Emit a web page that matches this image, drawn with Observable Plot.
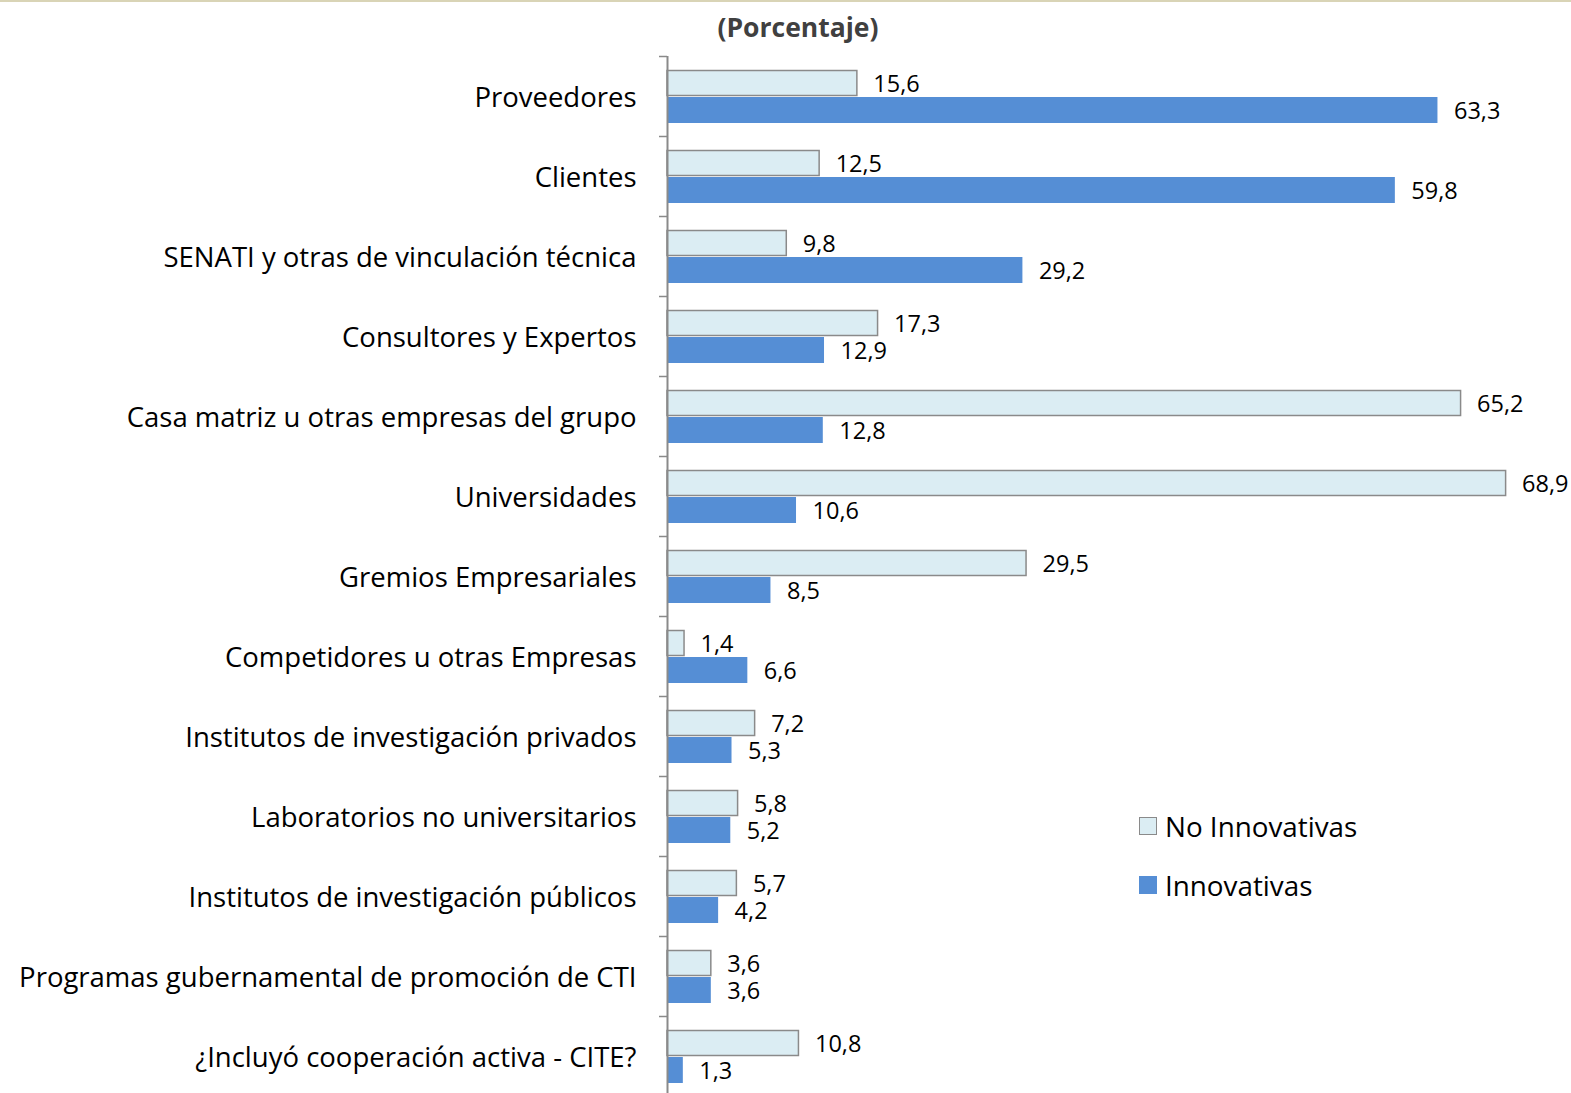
<!DOCTYPE html>
<html>
<head>
<meta charset="utf-8">
<script src="https://cdn.jsdelivr.net/npm/d3@7"></script>
<script src="https://cdn.jsdelivr.net/npm/@observablehq/plot@0.6"></script>
<style>
  html, body { margin: 0; padding: 0; background: #fff; overflow: hidden; }
  #wrap { position: relative; width: 1571px; height: 1093px; border-top: 2px solid #d9d4b6; box-sizing: border-box; }
  #title { position: absolute; left: 0; top: 6px; width: 1596px; text-align: center; font-family: "Open Sans", sans-serif; font-weight: bold; font-size: 26.5px; color: #404040; line-height: 38px; }
  #legend { position: absolute; left: 1139px; top: 804px; font-family: "Open Sans", sans-serif; font-size: 27.8px; color: #000; }
  .li { display: flex; align-items: center; height: 40px; margin-bottom: 19px; }
  .sw { width: 18px; height: 18px; margin-right: 8px; box-sizing: border-box; }
  #chart { position: absolute; left: 1px; top: -2px; }
</style>
</head>
<body>
<div id="wrap">
  <div id="chart"></div>
  <div id="title">(Porcentaje)</div>
  <div id="legend">
    <div class="li"><div class="sw" style="background:#dbedf3;border:1.5px solid #8a8a8a"></div>No Innovativas</div>
    <div class="li"><div class="sw" style="background:#558ed5"></div>Innovativas</div>
  </div>
</div>
<script>
const categories = [
  "Proveedores",
  "Clientes",
  "SENATI y otras de vinculación técnica",
  "Consultores y Expertos",
  "Casa matriz u otras empresas del grupo",
  "Universidades",
  "Gremios Empresariales",
  "Competidores u otras Empresas",
  "Institutos de investigación privados",
  "Laboratorios no universitarios",
  "Institutos de investigación públicos",
  "Programas gubernamental de promoción de CTI",
  "¿Incluyó cooperación activa - CITE?"
];
const noInnovativas = [15.6, 12.5, 9.8, 17.3, 65.2, 68.9, 29.5, 1.4, 7.2, 5.8, 5.7, 3.6, 10.8];
const innovativas   = [63.3, 59.8, 29.2, 12.9, 12.8, 10.6, 8.5, 6.6, 5.3, 5.2, 4.2, 3.6, 1.3];

const noData = categories.map((c, i) => ({cat: c, v: noInnovativas[i]}));
const inData = categories.map((c, i) => ({cat: c, v: innovativas[i]}));
const fmt = d => d3.format(".1f")(d.v).replace(".", ",");

const chart = Plot.plot({
  width: 1570,
  height: 1098,
  marginTop: 56,
  marginBottom: 2,
  marginLeft: 666,
  marginRight: 52,
  style: {fontFamily: "Open Sans, sans-serif", fontSize: "23px", color: "#000", background: "transparent"},
  x: {domain: [0, 70], axis: null},
  y: {domain: categories, padding: 0, label: null},
  marks: [
    Plot.barX(noData, {y: "cat", x: "v", insetTop: 14.5, insetBottom: 40.5, fill: "#dbedf3", stroke: "#8a8a8a", strokeWidth: 1.5}),
    Plot.barX(inData, {y: "cat", x: "v", insetTop: 41, insetBottom: 13, fill: "#558ed5"}),
    Plot.ruleX([0], {stroke: "#8a8a8a", strokeWidth: 2}),
    Plot.axisY({tickSize: 8, tickFormat: () => "", dy: -40, stroke: "#8a8a8a", strokeWidth: 1.5, label: null}),
    Plot.axisY({tickSize: 0, tickPadding: 31, dy: 1.5, fontSize: 27.5, fill: "#000", label: null}),
    Plot.text(noData, {x: "v", y: "cat", text: fmt, dx: 16, dy: -12, textAnchor: "start", fill: "#000", fontSize: 23.5}),
    Plot.text(inData, {x: "v", y: "cat", text: fmt, dx: 16, dy: 15, textAnchor: "start", fill: "#000", fontSize: 23.5})
  ]
});
document.getElementById("chart").appendChild(chart);
</script>
</body>
</html>
